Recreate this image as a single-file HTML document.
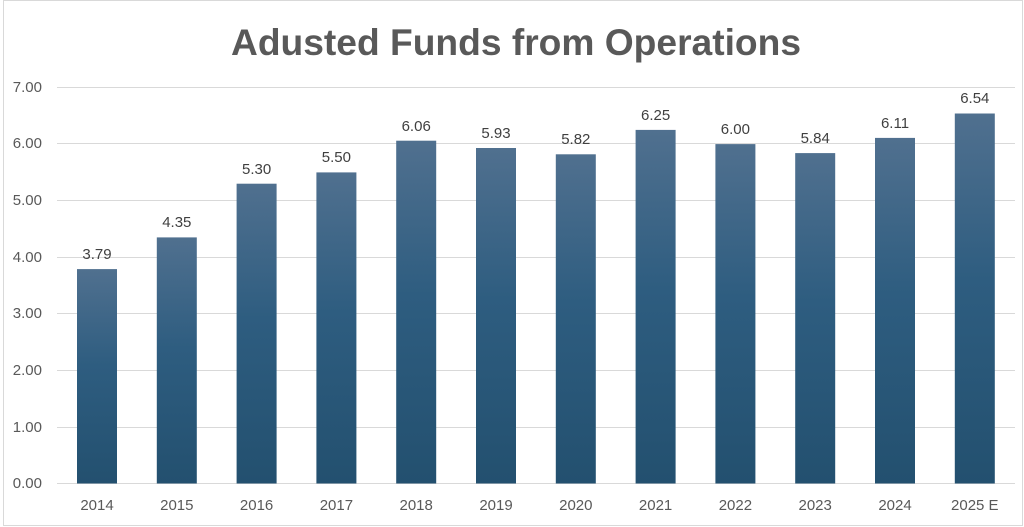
<!DOCTYPE html>
<html><head><meta charset="utf-8"><style>
html,body{margin:0;padding:0;background:#fff;}
svg{display:block;font-family:"Liberation Sans",Arial,sans-serif;}
</style></head><body>
<svg width="1024" height="527" viewBox="0 0 1024 527" xmlns="http://www.w3.org/2000/svg">
<defs>
<linearGradient id="g" x1="0" y1="0" x2="0" y2="1">
<stop offset="0" stop-color="#50708f"/>
<stop offset="0.45" stop-color="#2e5d80"/>
<stop offset="1" stop-color="#23506f"/>
</linearGradient>
</defs>
<rect x="3.5" y="0.5" width="1019" height="525" fill="#fff" stroke="#d9d9d9"/>
<text x="516" y="55" text-anchor="middle" font-size="37" font-weight="bold" fill="#595959" textLength="570" lengthAdjust="spacingAndGlyphs">Adusted Funds from Operations</text>
<g stroke="#d9d9d9" stroke-width="1">
<line x1="57" x2="1015" y1="87.5" y2="87.5"/>
<line x1="57" x2="1015" y1="143.5" y2="143.5"/>
<line x1="57" x2="1015" y1="200.5" y2="200.5"/>
<line x1="57" x2="1015" y1="257.5" y2="257.5"/>
<line x1="57" x2="1015" y1="313.5" y2="313.5"/>
<line x1="57" x2="1015" y1="370.5" y2="370.5"/>
<line x1="57" x2="1015" y1="427.5" y2="427.5"/>
<line x1="57" x2="1015" y1="483.5" y2="483.5"/>
</g>
<g font-size="15" fill="#595959" text-anchor="end">
<text x="42" y="92">7.00</text>
<text x="42" y="148">6.00</text>
<text x="42" y="205">5.00</text>
<text x="42" y="262">4.00</text>
<text x="42" y="318">3.00</text>
<text x="42" y="375">2.00</text>
<text x="42" y="432">1.00</text>
<text x="42" y="488">0.00</text>
</g>
<g fill="url(#g)">
<rect x="77" y="269.1" width="40" height="214.4"/>
<rect x="156.8" y="237.4" width="40" height="246.1"/>
<rect x="236.6" y="183.7" width="40" height="299.8"/>
<rect x="316.4" y="172.4" width="40" height="311.1"/>
<rect x="396.2" y="140.7" width="40" height="342.8"/>
<rect x="476" y="148" width="40" height="335.5"/>
<rect x="555.8" y="154.3" width="40" height="329.2"/>
<rect x="635.6" y="129.9" width="40" height="353.6"/>
<rect x="715.4" y="144.1" width="40" height="339.4"/>
<rect x="795.2" y="153.1" width="40" height="330.4"/>
<rect x="875" y="137.9" width="40" height="345.6"/>
<rect x="954.8" y="113.5" width="40" height="370"/>
</g>
<g font-size="15" fill="#404040" text-anchor="middle">
<text x="97" y="259">3.79</text>
<text x="176.8" y="227">4.35</text>
<text x="256.6" y="174">5.30</text>
<text x="336.4" y="162">5.50</text>
<text x="416.2" y="131">6.06</text>
<text x="496" y="138">5.93</text>
<text x="575.8" y="144">5.82</text>
<text x="655.6" y="120">6.25</text>
<text x="735.4" y="134">6.00</text>
<text x="815.2" y="143">5.84</text>
<text x="895" y="128">6.11</text>
<text x="974.8" y="103">6.54</text>
</g>
<g font-size="15" fill="#595959" text-anchor="middle">
<text x="97" y="510">2014</text>
<text x="176.8" y="510">2015</text>
<text x="256.6" y="510">2016</text>
<text x="336.4" y="510">2017</text>
<text x="416.2" y="510">2018</text>
<text x="496" y="510">2019</text>
<text x="575.8" y="510">2020</text>
<text x="655.6" y="510">2021</text>
<text x="735.4" y="510">2022</text>
<text x="815.2" y="510">2023</text>
<text x="895" y="510">2024</text>
<text x="974.8" y="510">2025 E</text>
</g>
</svg>
</body></html>
